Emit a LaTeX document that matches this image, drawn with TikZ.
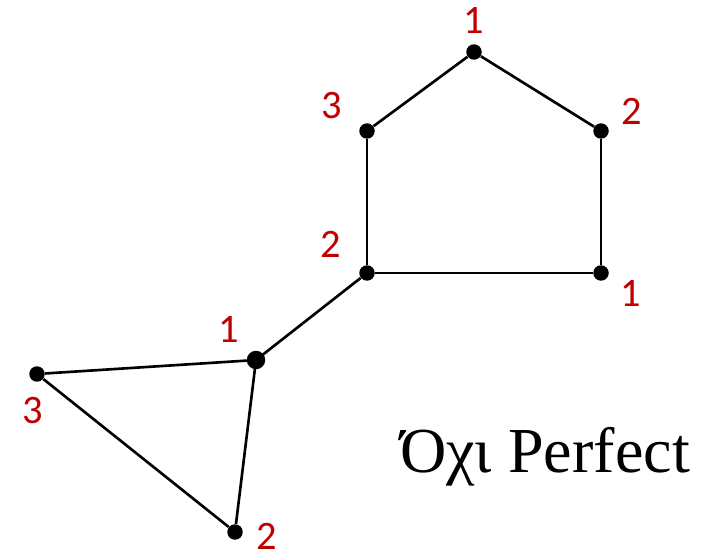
\documentclass[tikz,border=0pt]{standalone}
\usepackage{fontspec}
\setmainfont{Liberation Serif}
\newfontfamily\labelfont{Carlito}
\definecolor{labelred}{RGB}{192,0,0}
\tikzset{
  vertex/.style={circle, fill=black, inner sep=0pt, minimum size=0.31cm},
  num/.style={text=labelred, font=\labelfont\fontsize{23}{27}\selectfont, inner sep=0pt},
  edge/.style={line width=1.5pt}
}
\begin{document}
\begin{tikzpicture}[x=0.02cm, y=-0.02cm]
\useasboundingbox (0,0) rectangle (714,554);

% vertices: name / position / label / label position
\foreach \n/\x/\y/\l/\lx/\ly in {a/474/52/1/474/20, b/367/131/3/332/106, c/601/131/2/632/111,
  d/367/273/2/331/244, e/601/273/1/631/293, f/256/360/1/229/329,
  g/37/374/3/33/411, h/235/532/2/267/536}{
\node[vertex] (\n) at (\x,\y) {};
\node[num] (\n l) at (\lx,\ly) {\l};
}
\node[vertex, minimum size=0.37cm] at (f) {};

\foreach \s/\t in {a/b, a/c, b/d, c/e, d/e, d/f, f/g, f/h, g/h}
\draw[edge] (\s) -- (\t);

\node[anchor=base, font=\fontsize{36.5}{40}\selectfont, inner sep=0pt] (title) at (545,472) {Όχι Perfect};
\end{tikzpicture}
\end{document}
